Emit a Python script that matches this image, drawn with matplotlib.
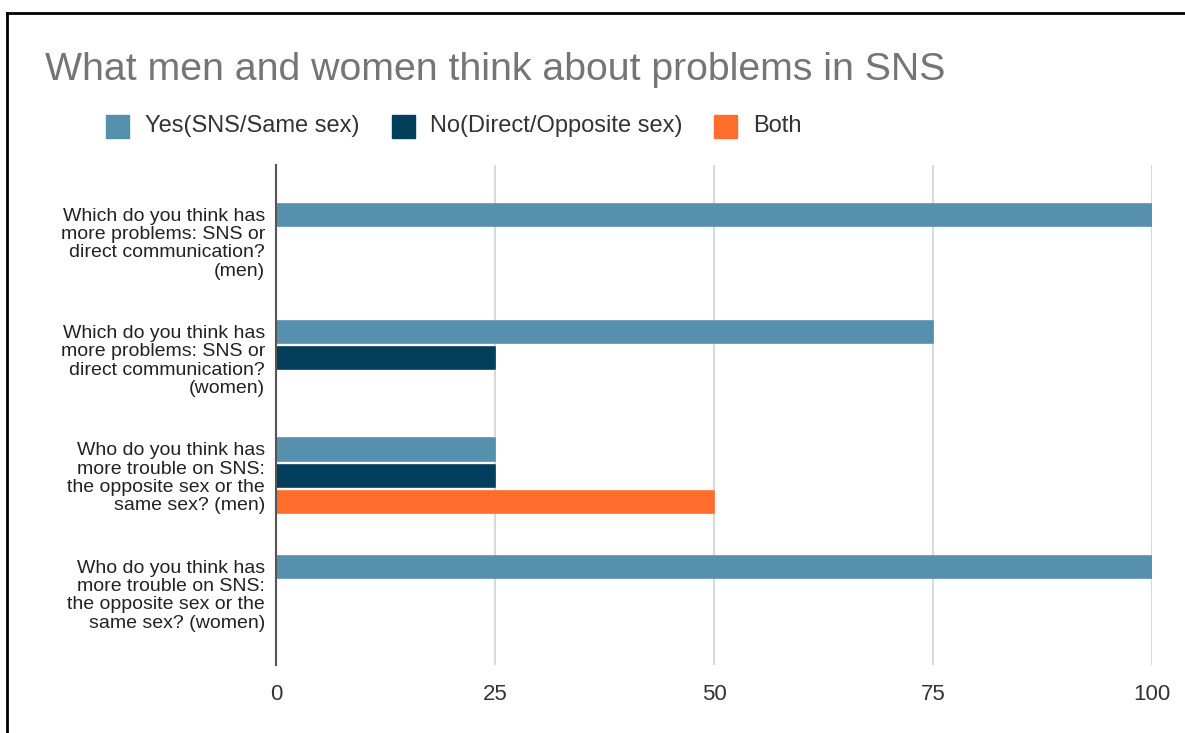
import matplotlib
matplotlib.use("Agg")
import matplotlib.pyplot as plt
import numpy as np
from matplotlib.patches import Rectangle
from matplotlib.lines import Line2D

plt.rcParams["font.family"] = ["Liberation Sans", "DejaVu Sans"]

# data
questions = [
    "Which do you think has\nmore problems: SNS or\ndirect communication?\n(men)",
    "Which do you think has\nmore problems: SNS or\ndirect communication?\n(women)",
    "Who do you think has\nmore trouble on SNS:\nthe opposite sex or the\nsame sex? (men)",
    "Who do you think has\nmore trouble on SNS:\nthe opposite sex or the\nsame sex? (women)",
]
series_names = ["Yes(SNS/Same sex)", "No(Direct/Opposite sex)", "Both"]
yes_vals = [100, 75, 25, 100]
no_vals = [0, 25, 25, 0]
both_vals = [0, 0, 50, 0]
colors = ["#5790ad", "#033f5c", "#ff6d2d"]
xticks = [0, 25, 50, 75, 100]

fig = plt.figure(figsize=(11.85, 7.33), dpi=100)
ax = fig.add_axes([276 / 1185, 1 - 665 / 733, (1152 - 276) / 1185, 500 / 733])

y = np.arange(len(questions))
step = 0.222
height = 0.19
for i, (vals, c) in enumerate(zip([yes_vals, no_vals, both_vals], colors)):
    bars = ax.barh(y - step + i * step, vals, height=height, color=c, zorder=3)
    # slightly rounded bar ends
    for b in bars:
        b.set_edgecolor(c)
        b.set_linewidth(1.2)
        b.set_joinstyle("round")

ax.set_ylim(3.614, -0.648)
ax.set_xlim(0, 100)
ax.set_xticks(xticks)
ax.set_xticklabels([str(t) for t in xticks], fontsize=16, color="#333333")
ax.tick_params(axis="both", length=0)
ax.tick_params(axis="x", pad=14)
ax.set_yticks(y)
ax.set_yticklabels(questions, fontsize=14, color="#222222", ha="right",
                   linespacing=1.1)
ax.tick_params(axis="y", pad=8)
ax.grid(axis="x", color="#d9d9d9", linewidth=1.5, zorder=0)
for s in ["top", "right", "bottom"]:
    ax.spines[s].set_visible(False)
ax.spines["left"].set_color("#555555")
ax.spines["left"].set_linewidth(1.5)
ax.spines["left"].set_zorder(4)

fig.text(45 / 1185, 1 - 70 / 733, "What men and women think about problems in SNS",
         fontsize=28.3, color="#757575", va="center", ha="left")

# legend drawn by hand
leg_y = 1 - 126 / 733
sq = 23
for xpos, txt_x, name, c in zip([106, 392, 714], [145, 430, 753], series_names, colors):
    fig.patches.append(Rectangle((xpos / 1185, leg_y - sq / 2 / 733), sq / 1185, sq / 733,
                                 transform=fig.transFigure, color=c))
    fig.text(txt_x / 1185, leg_y, name, fontsize=17, color="#333333",
             va="center", ha="left")

# black frame lines of the screenshot
fig.add_artist(Line2D([7 / 1185, 1], [1 - 13 / 733, 1 - 13 / 733],
                      transform=fig.transFigure, color="black", linewidth=2))
fig.add_artist(Line2D([7 / 1185, 7 / 1185], [0, 1 - 13 / 733],
                      transform=fig.transFigure, color="black", linewidth=2))

fig.savefig("out.png", dpi=100)
